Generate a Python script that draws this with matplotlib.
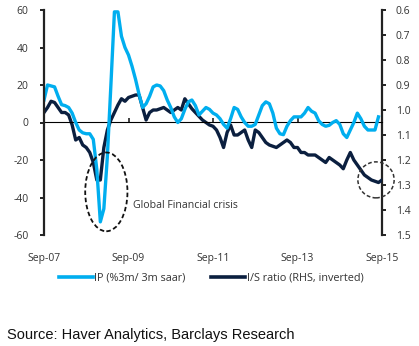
import matplotlib
matplotlib.use("Agg")
import matplotlib.pyplot as plt
from matplotlib.patches import Ellipse
from matplotlib.lines import Line2D
import numpy as np

# ---- data (monthly, Sep-07 = 0) ----
ip_values = [12, 20, 19.5, 19, 14, 9.5, 9, 8, 5, 0,
             -4, -5.5, -6, -6, -9, -25, -53, -46, -18, 20,
             59, 59, 46, 40, 36, 30, 23, 15, 8, 10,
             14, 19, 20, 19.5, 17, 12, 8, 3, 0, 2,
             7, 11, 12, 9, 4, 6, 8, 7, 5, 4,
             2, -1, -3, 2, 8, 7, 3, 0, -2, -2,
             -1, 4, 9, 11, 10, 5, -3, -6, -6.5, -2,
             1, 3, 3, 3, 5, 8, 6, 5, 1, -1,
             -2, -1.5, 0, 1, -1, -6, -8, -4, 0, 5,
             2, -2, -4, -4, -4, 3]
is_values = [1.01, 0.99, 0.965, 0.97, 0.99, 1.01, 1.01, 1.02, 1.06, 1.12,
             1.11, 1.14, 1.15, 1.17, 1.21, 1.28, 1.28, 1.15, 1.08, 1.04,
             1.01, 0.98, 0.955, 0.965, 0.95, 0.945, 0.94, 0.94, 0.99, 1.04,
             1.01, 1.00, 1.00, 0.995, 0.99, 1.00, 1.01, 1.00, 0.99, 1.00,
             0.955, 0.975, 0.995, 1.01, 1.025, 1.04, 1.05, 1.06, 1.065, 1.08,
             1.11, 1.15, 1.09, 1.06, 1.10, 1.10, 1.09, 1.08, 1.12, 1.15,
             1.08, 1.09, 1.11, 1.13, 1.14, 1.145, 1.15, 1.14, 1.13, 1.12,
             1.13, 1.15, 1.15, 1.17, 1.17, 1.18, 1.18, 1.18, 1.19, 1.20,
             1.21, 1.19, 1.20, 1.21, 1.22, 1.235, 1.20, 1.17, 1.20, 1.22,
             1.24, 1.26, 1.27, 1.28, 1.285, 1.29, 1.28]
x_tick_pos = [0, 24, 48, 72, 96]
x_tick_labels = ["Sep-07", "Sep-09", "Sep-11", "Sep-13", "Sep-15"]
left_ticks = [60, 40, 20, 0, -20, -40, -60]
right_ticks = [0.6, 0.7, 0.8, 0.9, 1.0, 1.1, 1.2, 1.3, 1.4, 1.5]

ip_label = "IP (%3m/ 3m saar)"
is_label = "I/S ratio (RHS, inverted)"
annot_text = "Global Financial crisis"
source_text = "Source: Haver Analytics, Barclays Research"

CYAN = "#00aeef"
NAVY = "#0b1f3f"
TXT = "#333333"
FONT = "Open Sans"

W, H = 419, 346
fig = plt.figure(figsize=(W / 100, H / 100), dpi=100)
ax = fig.add_axes([44 / W, 1 - 235 / H, (382 - 44) / W, (235 - 10) / H])
ax2 = ax.twinx()

ip_x = np.arange(len(ip_values))
is_x = np.arange(len(is_values))

ax2.plot(is_x, is_values, color=NAVY, lw=2.4, solid_joinstyle="round", zorder=3)
ax.plot(ip_x, ip_values, color=CYAN, lw=2.4, solid_joinstyle="round", zorder=2)
ax.set_zorder(ax2.get_zorder() + 1)
ax.patch.set_visible(False)

ax.set_xlim(0, 96)
ax.set_ylim(-60, 60)
ax2.set_ylim(1.5, 0.6)

for a in (ax, ax2):
    for s in ("top", "bottom"):
        a.spines[s].set_visible(False)
ax.spines["right"].set_visible(False)
ax2.spines["left"].set_visible(False)
ax.spines["left"].set_linewidth(1.6)
ax.spines["left"].set_color("#222222")
ax2.spines["right"].set_linewidth(1.6)
ax2.spines["right"].set_color("#222222")

ax.set_yticks(left_ticks)
ax.set_yticklabels([str(v) for v in left_ticks], fontfamily=FONT, fontsize=7.5, color=TXT)
ax.tick_params(axis="y", direction="out", length=3, width=1.4, color="#222222", pad=8)
ax2.set_yticks(right_ticks)
ax2.set_yticklabels(["%.1f" % v for v in right_ticks], fontfamily=FONT, fontsize=7.5, color=TXT)
ax2.tick_params(axis="y", direction="out", length=3, width=1.4, color="#222222", pad=7)

ax.set_xticks(x_tick_pos)
ax.set_xticklabels(x_tick_labels, fontfamily=FONT, fontsize=7.5, color=TXT)
ax.tick_params(axis="x", length=0, pad=13)

# zero line with ticks
sec = ax.secondary_xaxis(0.5)
sec.set_xticks(x_tick_pos[1:-1], labels=["" for _ in x_tick_pos[1:-1]])
sec.tick_params(axis="x", direction="out", length=3, width=1.2, color="#222222")
sec.spines["bottom"].set_linewidth(1.6)
sec.spines["bottom"].set_color("#222222")

# annotations
ell = Ellipse((17.7, -37), 12, 42, fill=False, ls=(0, (2.5, 1.5)), lw=1.3,
              edgecolor="#111111", zorder=5)
ax.add_patch(ell)
circ = Ellipse((94.3, -30.6), 10.3, 19.2, fill=False, ls=(0, (2.5, 1.5)), lw=1.1,
               edgecolor="#333333", zorder=5, clip_on=False)
ax.add_patch(circ)
ax.text(25.3, -44.3, annot_text, fontfamily=FONT, fontsize=7.6, color=TXT,
        ha="left", va="center")

handles = [Line2D([], [], color=CYAN, lw=2.6), Line2D([], [], color=NAVY, lw=2.6)]
fig.legend(handles, [ip_label, is_label], loc="center", bbox_to_anchor=(211 / W, 1 - 278 / H),
           ncol=2, frameon=False, handlelength=3.2, handletextpad=0.1, columnspacing=2.3,
           prop={"family": FONT, "size": 7.8}, labelcolor=TXT)

fig.text(7 / W, 1 - 335 / H, source_text, fontfamily="Liberation Sans", fontsize=10.5,
         color="#111111", ha="left", va="center")

fig.savefig("out.png", dpi=100)
